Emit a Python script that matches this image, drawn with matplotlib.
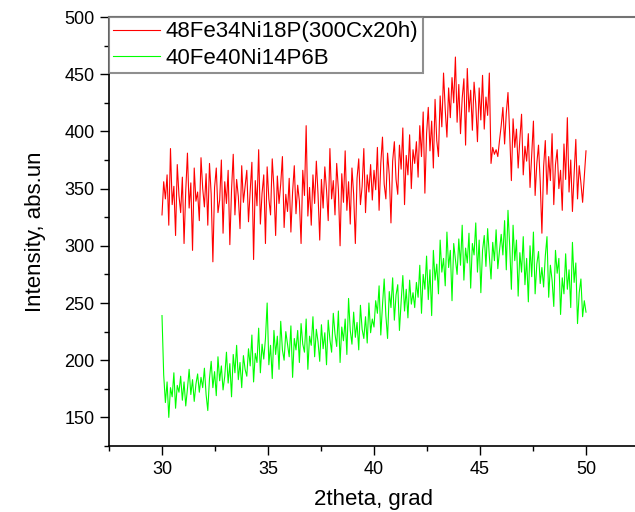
import numpy as np
import matplotlib
matplotlib.use("Agg")
import matplotlib.pyplot as plt
from matplotlib.ticker import MultipleLocator

plt.rcParams["font.family"] = ["Liberation Sans", "DejaVu Sans"]

# 2theta grid, 0.08 grad step from 30 to 50
two_theta = 30 + 0.08 * np.arange(251)

# 48Fe34Ni18P(300Cx20h), one row per 2 grad
red_rows = [
    [327, 356, 341, 362, 318, 385, 336, 352, 309, 371, 344, 329, 360, 302, 348, 381, 333, 355, 296, 368, 339, 347, 322, 377, 350],
    [334, 363, 318, 372, 345, 286, 351, 368, 329, 340, 375, 311, 356, 337, 366, 301, 349, 380, 327, 358, 343, 315, 370, 338, 352],
    [366, 321, 348, 373, 288, 357, 335, 384, 319, 346, 362, 302, 369, 341, 327, 376, 350, 309, 361, 337, 354, 378, 316, 345, 330],
    [359, 312, 347, 370, 328, 353, 339, 302, 366, 344, 405, 326, 351, 318, 362, 337, 374, 345, 305, 358, 333, 369, 349, 322, 385],
    [341, 357, 327, 372, 349, 300, 363, 338, 383, 331, 356, 319, 368, 345, 302, 359, 376, 336, 352, 385, 329, 362, 347, 371, 340],
    [366, 349, 386, 331, 372, 395, 354, 341, 381, 362, 320, 374, 391, 358, 345, 388, 367, 403, 336, 379, 362, 397, 350, 384, 372],
    [391, 360, 405, 378, 417, 346, 398, 421, 383, 409, 368, 428, 392, 378, 431, 404, 451, 419, 395, 438, 412, 447, 425, 465, 408],
    [441, 398, 429, 446, 388, 455, 417, 436, 401, 443, 424, 391, 438, 410, 449, 402, 430, 414, 451, 372, 386, 380, 384, 378, 392],
    [405, 421, 389, 416, 434, 398, 357, 411, 386, 402, 368, 393, 415, 362, 387, 374, 398, 351, 380, 409, 344, 372, 388, 356, 311],
    [369, 392, 345, 378, 357, 398, 336, 371, 384, 350, 366, 331, 389, 358, 412, 347, 375, 330, 363, 393, 341, 370, 355, 338, 360],
    [383],
]

# 40Fe40Ni14P6B
green_rows = [
    [239, 187, 163, 181, 150, 176, 168, 189, 158, 178, 172, 186, 165, 181, 160, 175, 192, 170, 183, 164, 179, 188, 172, 185, 176],
    [193, 170, 156, 184, 199, 176, 190, 169, 203, 182, 195, 174, 186, 207, 180, 197, 168, 205, 189, 213, 183, 198, 176, 204, 192],
    [186, 210, 195, 222, 181, 206, 198, 228, 189, 214, 201, 219, 250, 196, 213, 184, 226, 205, 221, 192, 234, 209, 200, 225, 214],
    [203, 230, 185, 219, 209, 226, 198, 232, 214, 207, 236, 192, 221, 213, 238, 203, 227, 216, 199, 231, 210, 224, 196, 235, 218],
    [207, 241, 223, 212, 243, 198, 229, 217, 236, 205, 254, 226, 214, 242, 220, 233, 209, 248, 227, 219, 238, 215, 250, 224, 236],
    [229, 252, 241, 265, 222, 248, 271, 239, 219, 260, 246, 272, 235, 257, 266, 226, 251, 274, 243, 262, 237, 270, 249, 259, 246],
    [268, 255, 283, 241, 275, 262, 291, 253, 279, 239, 296, 270, 284, 258, 305, 277, 289, 265, 312, 281, 296, 252, 302, 288, 275],
    [306, 283, 318, 270, 298, 285, 311, 263, 302, 292, 320, 277, 305, 259, 296, 309, 282, 315, 291, 271, 303, 287, 314, 280, 296],
    [310, 292, 322, 279, 331, 300, 262, 318, 287, 305, 256, 294, 277, 308, 266, 289, 251, 300, 273, 312, 258, 284, 295, 267, 281],
    [264, 291, 308, 255, 283, 270, 247, 296, 276, 289, 240, 272, 258, 293, 262, 279, 246, 303, 268, 285, 232, 259, 271, 238, 252],
    [242],
]

red = np.concatenate(red_rows)
green = np.concatenate(green_rows)

fig = plt.figure(figsize=(6.35, 5.12), dpi=100)
ax = fig.add_axes([109 / 635, 66 / 512, 530 / 635, 429 / 512])

ax.plot(two_theta, red, color="#ff0000", lw=0.8, label="48Fe34Ni18P(300Cx20h)")
ax.plot(two_theta, green, color="#00ff00", lw=0.8, label="40Fe40Ni14P6B")

ax.set_xlim(27.5, 52.5)
ax.set_ylim(125, 500)
ax.xaxis.set_major_locator(MultipleLocator(5))
ax.xaxis.set_minor_locator(MultipleLocator(2.5))
ax.yaxis.set_minor_locator(MultipleLocator(25))
ax.set_yticks([150, 200, 250, 300, 350, 400, 450, 500])

ax.tick_params(which="major", direction="out", length=6.5, width=1, labelsize=13, pad=4)
ax.tick_params(which="minor", direction="out", length=3.5, width=1)
ax.tick_params(top=False, right=False)

for side in ["left", "bottom"]:
    ax.spines[side].set_linewidth(1.2)
ax.spines["top"].set_color("0.45")
ax.spines["top"].set_linewidth(1.5)
ax.spines["right"].set_visible(False)

ax.set_xlabel("2theta, grad", fontsize=16, labelpad=8)
ax.set_ylabel("Intensity, abs.un", fontsize=16, labelpad=13)

leg = ax.legend(loc="upper left", bbox_to_anchor=(0, 1), borderaxespad=0,
                fontsize=16, frameon=True, fancybox=False, handlelength=2.1,
                handletextpad=0.25, labelspacing=0.25, borderpad=0.2)
leg.get_frame().set_edgecolor("0.45")
leg.get_frame().set_linewidth(1.5)

fig.savefig("out.png", dpi=100)
